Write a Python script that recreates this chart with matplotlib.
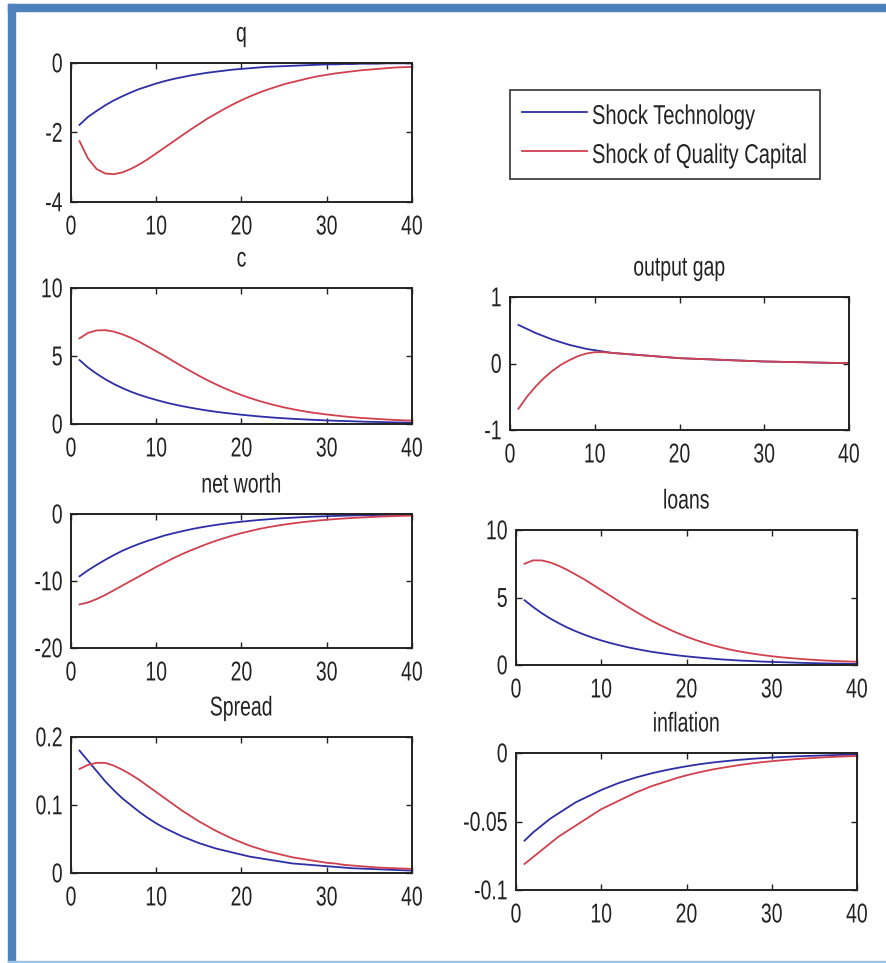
import numpy as np
import matplotlib
matplotlib.use("Agg")
import matplotlib.pyplot as plt
from matplotlib.patches import Rectangle
from matplotlib.lines import Line2D
from matplotlib.patheffects import AbstractPathEffect
from matplotlib.transforms import Affine2D

plt.rcParams['font.family'] = ['Liberation Sans', 'DejaVu Sans']
plt.rcParams['axes.unicode_minus'] = False

periods = np.arange(1, 41)
labels = ["Shock Technology", "Shock of Quality Capital"]

q_tech = [-1.78, -1.55, -1.38, -1.22, -1.08, -0.96, -0.85, -0.75, -0.67, -0.59,
          -0.52, -0.46, -0.41, -0.36, -0.32, -0.28, -0.25, -0.22, -0.19, -0.17,
          -0.15, -0.13, -0.11, -0.10, -0.09, -0.08, -0.07, -0.06, -0.05, -0.04,
          -0.04, -0.03, -0.03, -0.02, -0.02, -0.02, -0.01, -0.01, -0.01, -0.01]
q_qual = [-2.25, -2.75, -3.05, -3.18, -3.20, -3.15, -3.05, -2.92, -2.77, -2.60,
          -2.43, -2.26, -2.09, -1.92, -1.76, -1.60, -1.46, -1.32, -1.19, -1.07,
          -0.96, -0.86, -0.77, -0.69, -0.61, -0.55, -0.49, -0.43, -0.38, -0.34,
          -0.30, -0.27, -0.24, -0.21, -0.19, -0.17, -0.15, -0.13, -0.12, -0.11]

c_tech = [4.70, 4.15, 3.70, 3.30, 2.95, 2.65, 2.38, 2.15, 1.95, 1.77,
          1.60, 1.45, 1.32, 1.20, 1.09, 0.99, 0.90, 0.82, 0.75, 0.68,
          0.62, 0.56, 0.51, 0.46, 0.42, 0.38, 0.35, 0.32, 0.29, 0.26,
          0.24, 0.22, 0.20, 0.18, 0.16, 0.15, 0.13, 0.12, 0.11, 0.10]
c_qual = [6.30, 6.70, 6.88, 6.90, 6.80, 6.60, 6.35, 6.05, 5.70, 5.35,
          5.00, 4.62, 4.25, 3.90, 3.55, 3.22, 2.92, 2.63, 2.37, 2.13,
          1.91, 1.71, 1.53, 1.37, 1.22, 1.09, 0.97, 0.87, 0.78, 0.70,
          0.63, 0.56, 0.50, 0.45, 0.41, 0.37, 0.33, 0.30, 0.27, 0.25]

gap_tech = [0.58, 0.52, 0.46, 0.41, 0.36, 0.32, 0.28, 0.25, 0.22, 0.20,
            0.18, 0.16, 0.15, 0.14, 0.13, 0.12, 0.11, 0.10, 0.09, 0.08,
            0.075, 0.07, 0.065, 0.06, 0.055, 0.05, 0.045, 0.04, 0.035, 0.03,
            0.028, 0.025, 0.022, 0.02, 0.018, 0.015, 0.012, 0.01, 0.008, 0.005]
gap_qual = [-0.68, -0.50, -0.35, -0.22, -0.11, -0.02, 0.05, 0.11, 0.15, 0.17,
            0.17, 0.16, 0.15, 0.14, 0.13, 0.12, 0.11, 0.10, 0.09, 0.08,
            0.075, 0.07, 0.065, 0.06, 0.055, 0.05, 0.045, 0.04, 0.035, 0.03,
            0.028, 0.025, 0.022, 0.02, 0.018, 0.015, 0.012, 0.01, 0.008, 0.005]

nw_tech = [-9.3, -8.4, -7.6, -6.85, -6.15, -5.5, -4.95, -4.45, -4.0, -3.6,
           -3.2, -2.88, -2.58, -2.3, -2.05, -1.83, -1.63, -1.45, -1.29, -1.15,
           -1.02, -0.9, -0.8, -0.7, -0.62, -0.55, -0.48, -0.42, -0.37, -0.33,
           -0.29, -0.25, -0.22, -0.19, -0.17, -0.15, -0.13, -0.11, -0.1, -0.09]
nw_qual = [-13.5, -13.2, -12.7, -12.1, -11.4, -10.7, -10.0, -9.3, -8.6, -7.9,
           -7.25, -6.6, -6.0, -5.45, -4.95, -4.45, -4.0, -3.6, -3.2, -2.85,
           -2.55, -2.25, -2.0, -1.78, -1.58, -1.4, -1.24, -1.1, -0.97, -0.86,
           -0.76, -0.67, -0.59, -0.52, -0.46, -0.4, -0.35, -0.31, -0.27, -0.24]

loans_tech = [4.8, 4.3, 3.85, 3.45, 3.1, 2.78, 2.5, 2.25, 2.02, 1.82,
              1.64, 1.48, 1.33, 1.2, 1.08, 0.97, 0.88, 0.79, 0.71, 0.64,
              0.58, 0.52, 0.47, 0.42, 0.38, 0.34, 0.31, 0.28, 0.25, 0.23,
              0.21, 0.19, 0.17, 0.15, 0.14, 0.12, 0.11, 0.1, 0.09, 0.08]
loans_qual = [7.5, 7.75, 7.75, 7.6, 7.35, 7.05, 6.7, 6.35, 5.95, 5.55,
              5.15, 4.75, 4.35, 3.97, 3.6, 3.25, 2.93, 2.63, 2.35, 2.1,
              1.87, 1.66, 1.47, 1.31, 1.16, 1.03, 0.92, 0.82, 0.73, 0.65,
              0.58, 0.52, 0.47, 0.42, 0.38, 0.34, 0.31, 0.28, 0.26, 0.24]

spread_tech = [0.18, 0.165, 0.15, 0.135, 0.122, 0.11, 0.1, 0.09, 0.081, 0.073,
               0.066, 0.06, 0.054, 0.049, 0.044, 0.04, 0.036, 0.033, 0.03, 0.027,
               0.024, 0.022, 0.02, 0.018, 0.016, 0.014, 0.013, 0.012, 0.011, 0.01,
               0.009, 0.008, 0.007, 0.0065, 0.006, 0.0055, 0.005, 0.0045, 0.004, 0.0035]
spread_qual = [0.153, 0.159, 0.162, 0.162, 0.158, 0.152, 0.145, 0.137, 0.128, 0.119,
               0.11, 0.101, 0.092, 0.084, 0.076, 0.069, 0.062, 0.056, 0.05, 0.045,
               0.04, 0.036, 0.032, 0.029, 0.026, 0.023, 0.021, 0.019, 0.017, 0.015,
               0.014, 0.012, 0.011, 0.01, 0.009, 0.008, 0.0075, 0.007, 0.0065, 0.006]

infl_tech = [-0.064, -0.058, -0.053, -0.048, -0.044, -0.040, -0.036, -0.033, -0.030, -0.027,
             -0.0245, -0.022, -0.02, -0.018, -0.0163, -0.0147, -0.0133, -0.012, -0.0108, -0.0097,
             -0.0087, -0.0078, -0.007, -0.0063, -0.0057, -0.0051, -0.0046, -0.0041, -0.0037, -0.0033,
             -0.003, -0.0027, -0.0024, -0.0022, -0.002, -0.0018, -0.0016, -0.0014, -0.0013, -0.0012]
infl_qual = [-0.081, -0.076, -0.071, -0.066, -0.061, -0.057, -0.053, -0.049, -0.045, -0.041,
             -0.038, -0.035, -0.032, -0.029, -0.0265, -0.024, -0.022, -0.02, -0.018, -0.0163,
             -0.0148, -0.0134, -0.0121, -0.011, -0.01, -0.009, -0.0081, -0.0073, -0.0066, -0.006,
             -0.0054, -0.0049, -0.0044, -0.004, -0.0036, -0.0032, -0.0029, -0.0026, -0.0024, -0.0022]

x_ticks = [0, 10, 20, 30, 40]
q_yticks = [-4, -2, 0]
c_yticks = [0, 5, 10]
gap_yticks = [-1, 0, 1]
nw_yticks = [-20, -10, 0]
loans_yticks = [0, 5, 10]
spread_yticks = [0, 0.1, 0.2]
spread_ylabels = ["0", "0.1", "0.2"]
infl_yticks = [-0.1, -0.05, 0]
infl_ylabels = ["-0.1", "-0.05", "0"]


class Tall(AbstractPathEffect):
    # the screenshot has squashed/tall looking matlab fonts, stretch glyphs vertically
    def __init__(self, sy=1.4):
        super().__init__()
        self.pre = Affine2D().translate(0, -36).scale(1, sy).translate(0, 36)

    def draw_path(self, renderer, gc, tpath, affine, rgbFace=None):
        renderer.draw_path(gc, tpath, self.pre + affine, rgbFace)


TALL = [Tall(1.4)]

W, H = 887, 963
fig = plt.figure(figsize=(W / 100, H / 100), dpi=100)

# word-style blue frame
fig.patches.append(Rectangle((8 / W, 0), 7 / W, 1 - 4 / H, transform=fig.transFigure,
                             color='#4f81bd', zorder=0))
fig.patches.append(Rectangle((8 / W, 1 - 11 / H), 1 - 8 / W, 7 / H, transform=fig.transFigure,
                             color='#4f81bd', zorder=0))
fig.patches.append(Rectangle((8 / W, 0.5 / H), 1 - 8 / W, 1.2 / H, transform=fig.transFigure,
                             color='#9dc3e6', zorder=0))

BLUE = '#2e2ea6'
RED = '#d0404e'
INK = '#222222'


def panel(box, title, tech, qual, yticks, ylim, ylabels=None):
    l, t, r, b = box
    ax = fig.add_axes([l / W, 1 - b / H, (r - l) / W, (b - t) / H])
    ax.plot(periods, tech, color=BLUE, lw=1.3)
    ax.plot(periods, qual, color=RED, lw=1.3)
    ax.set_xlim(0, 40)
    ax.set_ylim(*ylim)
    ax.set_xticks(x_ticks)
    ax.set_xticklabels([str(v) for v in x_ticks])
    ax.set_yticks(yticks)
    if ylabels is None:
        ylabels = [str(v) for v in yticks]
    ax.set_yticklabels(ylabels)
    ax.tick_params(direction='in', top=True, right=True, length=4, width=1,
                   labelsize=14, colors=INK)
    ax.tick_params(axis='x', pad=12)
    ax.tick_params(axis='y', pad=6)
    for s in ax.spines.values():
        s.set_linewidth(1.4)
        s.set_color(INK)
    tt = ax.set_title(title, fontsize=14, color=INK, pad=17.5)
    tt.set_path_effects(TALL)
    for lab in ax.get_xticklabels() + ax.get_yticklabels():
        lab.set_path_effects(TALL)
    return ax


panel((71, 63, 412, 202), "q", q_tech, q_qual, q_yticks, (-4, 0))
panel((71, 288, 412, 424), "c", c_tech, c_qual, c_yticks, (0, 10))
panel((71, 514, 412, 648), "net worth", nw_tech, nw_qual, nw_yticks, (-20, 0))
panel((71, 737, 412, 873), "Spread", spread_tech, spread_qual, spread_yticks, (0, 0.2), spread_ylabels)
panel((510, 297, 849, 430), "output gap", gap_tech, gap_qual, gap_yticks, (-1, 1))
panel((516, 530, 857, 665), "loans", loans_tech, loans_qual, loans_yticks, (0, 10))
panel((516, 753, 857, 890), "inflation", infl_tech, infl_qual, infl_yticks, (-0.1, 0), infl_ylabels)

handles = [Line2D([], [], color=BLUE, lw=1.3), Line2D([], [], color=RED, lw=1.3)]
leg = fig.legend(handles, labels, loc='upper left', bbox_to_anchor=(510 / W, 1 - 90 / H),
                 fontsize=14.5, frameon=True, fancybox=False, handlelength=3.2,
                 handleheight=1.5, handletextpad=0.25, labelspacing=0.72,
                 borderpad=0.62, borderaxespad=0)
leg.get_frame().set_edgecolor(INK)
leg.get_frame().set_linewidth(1.4)
for txt in leg.get_texts():
    txt.set_color(INK)
    txt.set_path_effects([Tall(1.35)])

fig.savefig("out.png", dpi=100)
